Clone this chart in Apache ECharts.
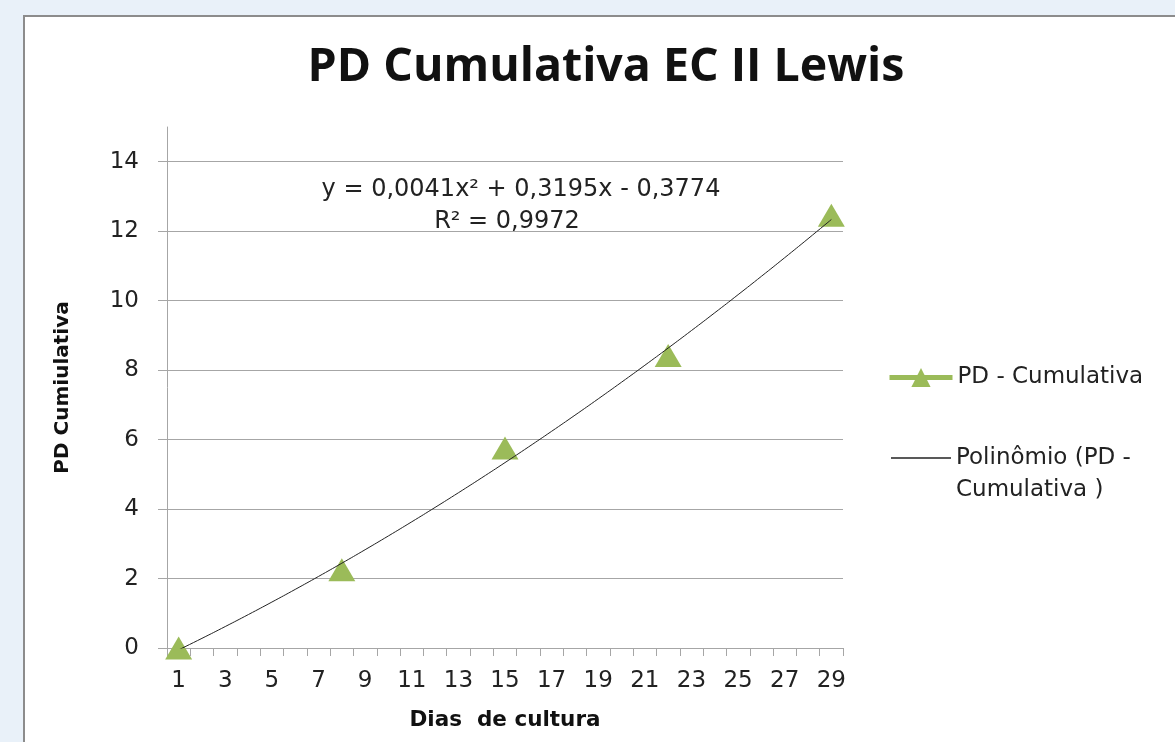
<!DOCTYPE html>
<html>
<head>
<meta charset="utf-8">
<script src="https://cdn.jsdelivr.net/npm/echarts@6/dist/echarts.min.js"></script>
<style>
  html, body { margin: 0; padding: 0; width: 1175px; height: 742px; overflow: hidden; background: #e9f1f9; }
  #box { position: absolute; left: 23px; top: 15px; width: 1300px; height: 900px; background: #fff; border: 2px solid #8c8c8c; }
  #chart { position: absolute; left: 0; top: 0; width: 1175px; height: 742px; }
</style>
</head>
<body>
<div id="box"></div>
<div id="chart"></div>
<script>
const titleText = 'PD Cumulativa EC II Lewis';
const days = ['1','2','3','4','5','6','7','8','9','10','11','12','13','14','15','16','17','18','19','20','21','22','23','24','25','26','27','28','29'];
const pdDays = [1, 8, 15, 22, 29];
const pdValues = [0, 2.25, 5.76, 8.42, 12.46];
const trendCoef = [0.0041, 0.3195, -0.3774]; // y = a x^2 + b x + c (from the chart's trendline label)
const yTicks = [0, 2, 4, 6, 8, 10, 12, 14];
const eqLine1 = 'y = 0,0041x² + 0,3195x - 0,3774';
const eqLine2 = 'R² = 0,9972';
const seriesName = 'PD - Cumulativa';
const trendName = 'Polinômio (PD - Cumulativa )';

const pdData = days.map(d => {
  const i = pdDays.indexOf(Number(d));
  return i >= 0 ? pdValues[i] : null;
});
const trendData = days.map(d => {
  const x = Number(d);
  return trendCoef[0] * x * x + trendCoef[1] * x + trendCoef[2];
});

const FONT = '"DejaVu Sans"';
const TFONT = '"Open Sans"';
const chart = echarts.init(document.getElementById('chart'));
chart.setOption({
  backgroundColor: 'transparent',
  animation: false,
  title: {
    text: titleText,
    left: 606, top: 68, textAlign: 'center', textVerticalAlign: 'middle', padding: 0,
    textStyle: { fontFamily: TFONT, fontWeight: 'bold', fontSize: 46.5, color: '#111' }
  },
  graphic: [
    { type: 'text', x: 521, y: 190, style: { text: eqLine1, fontFamily: FONT, fontSize: 24, fill: '#222', align: 'center', verticalAlign: 'middle' } },
    { type: 'text', x: 507, y: 222, style: { text: eqLine2, fontFamily: FONT, fontSize: 24, fill: '#222', align: 'center', verticalAlign: 'middle' } }
  ],
  legend: [
    {
      data: [seriesName], orient: 'vertical', left: 887, top: 366, padding: 0,
      itemWidth: 63, itemHeight: 24,
      lineStyle: { width: 5, color: '#9bbb59' },
      textStyle: { fontFamily: FONT, fontSize: 23, color: '#222' }
    },
    {
      data: [{ name: trendName, icon: 'rect' }], orient: 'vertical', left: 891, top: 410, padding: 0,
      itemWidth: 60, itemHeight: 1.5,
      itemStyle: { color: '#222' },
      formatter: () => ' \nPolinômio (PD -\nCumulativa )',
      textStyle: { fontFamily: FONT, fontSize: 23, color: '#222', lineHeight: 32 }
    }
  ],
  grid: { left: 167, width: 676, top: 127, height: 521, containLabel: false, outerBoundsMode: 'none' },
  xAxis: {
    type: 'category', data: days, boundaryGap: true,
    name: 'Dias  de cultura', nameLocation: 'middle', nameGap: 61,
    nameTextStyle: { fontFamily: FONT, fontWeight: 'bold', fontSize: 21.5, color: '#111' },
    axisLine: { lineStyle: { color: '#a6a6a6', width: 1 } },
    axisTick: { show: true, interval: 0, length: 8, lineStyle: { color: '#a6a6a6' } },
    axisLabel: { interval: 1, margin: 22, fontFamily: FONT, fontSize: 23, color: '#222' },
    splitLine: { show: false }
  },
  yAxis: {
    type: 'value', min: 0, max: 15, interval: 2,
    name: 'PD Cumiulativa', nameLocation: 'middle', nameGap: 94, nameRotate: 90,
    nameTextStyle: { fontFamily: FONT, fontWeight: 'bold', fontSize: 20, color: '#111' },
    axisLine: { show: true, lineStyle: { color: '#a6a6a6', width: 1 } },
    axisTick: { show: true, length: 9, customValues: yTicks, lineStyle: { color: '#a6a6a6' } },
    axisLabel: { margin: 28, customValues: yTicks, fontFamily: FONT, fontSize: 23, color: '#222' },
    splitLine: { show: true, lineStyle: { color: '#a6a6a6', width: 1 } }
  },
  series: [
    {
      name: seriesName, type: 'line', data: pdData, connectNulls: false,
      symbol: 'triangle', symbolSize: [27, 23], showAllSymbol: true,
      itemStyle: { color: '#9bbb59' },
      lineStyle: { color: '#9bbb59', width: 5 },
      z: 2
    },
    {
      name: trendName, type: 'line', data: trendData, symbol: 'none', smooth: true,
      lineStyle: { color: '#222', width: 1 },
      itemStyle: { color: '#222' },
      z: 3
    }
  ]
});
</script>
</body>
</html>
